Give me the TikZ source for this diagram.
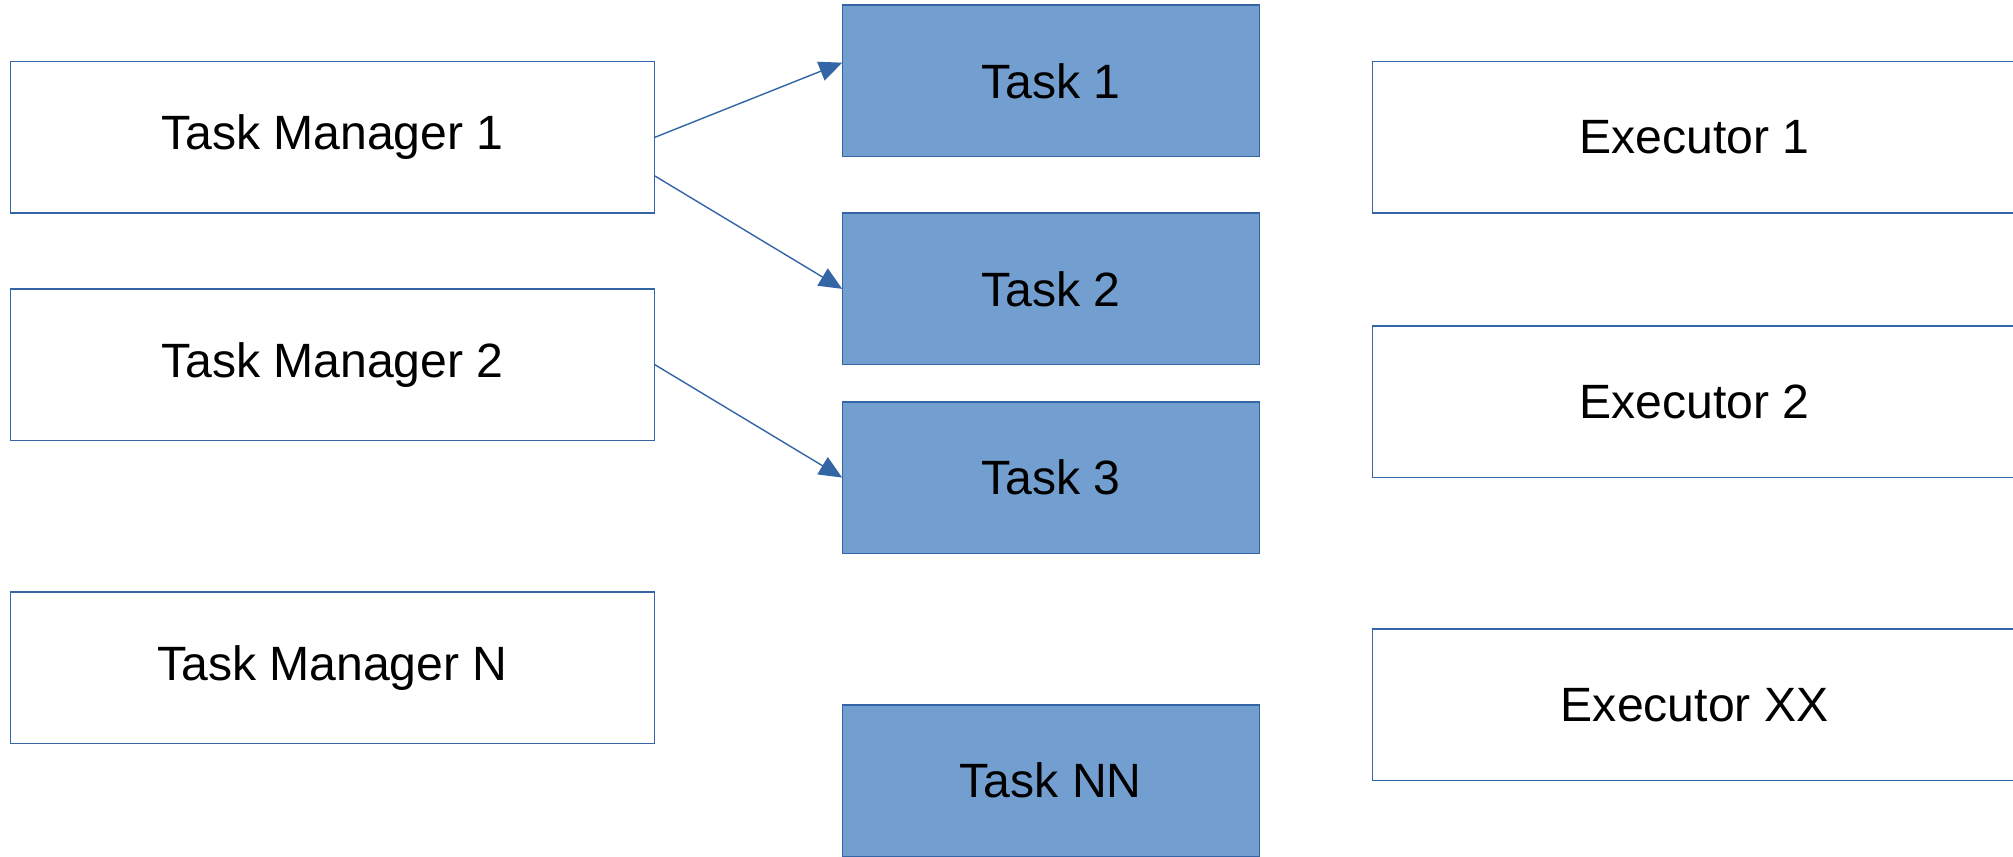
\documentclass[tikz,border=0pt]{standalone}
\usepackage{fontspec}
\setmainfont{Liberation Sans}
\usetikzlibrary{shapes,arrows.meta,calc}
\definecolor{edgeblue}{HTML}{3465A4}
\definecolor{taskblue}{HTML}{729FCF}
\tikzstyle{line} = [draw, edgeblue, line width=0.4pt, -{Triangle[length=0.23cm,width=0.2cm]}]
\tikzstyle{block} = [draw=edgeblue, line width=0.4pt, rectangle, text centered, inner sep=0pt, outer sep=0pt, minimum height=1.515cm, font=\fontsize{13.7}{16}\selectfont]
\tikzstyle{manager} = [block, minimum width=6.444cm]
\tikzstyle{task} = [block, fill=taskblue, minimum width=4.172cm]

\begin{document}
\begin{tikzpicture}[auto]
        \useasboundingbox (0,0) rectangle (20.13,-8.56);
        \node[manager] (tm1) at (3.325,-1.3735) {Task Manager 1};
        \node[manager, below of=tm1, node distance=2.2725cm] (tm2) {Task Manager 2};
        \node[manager, below of=tm2, node distance=3.03cm] (tmn) {Task Manager N};
        \node[task] (task1) at (10.508,-0.8085) {Task 1};
        \node[task, below of=task1, node distance=2.08cm] (task2) {Task 2};
        \node[task, below of=task2, node distance=1.887cm] (task3) {Task 3};
        \node[task, below of=task3, node distance=3.03cm] (tasknn) {Task NN};
        \node[manager] (ex1) at (16.946,-1.3735) {Executor 1};
        \node[manager, below of=ex1, node distance=2.645cm] (ex2) {Executor 2};
        \node[manager, below of=ex2, node distance=3.03cm] (exxx) {Executor XX};
        \path[line] (tm1.east) -- ([yshift=0.182cm]task1.west);
        \path[line] ([yshift=-0.385cm]tm1.east) -- (task2.west);
        \path[line] (tm2.east) -- (task3.west);
    \end{tikzpicture}
\end{document}
